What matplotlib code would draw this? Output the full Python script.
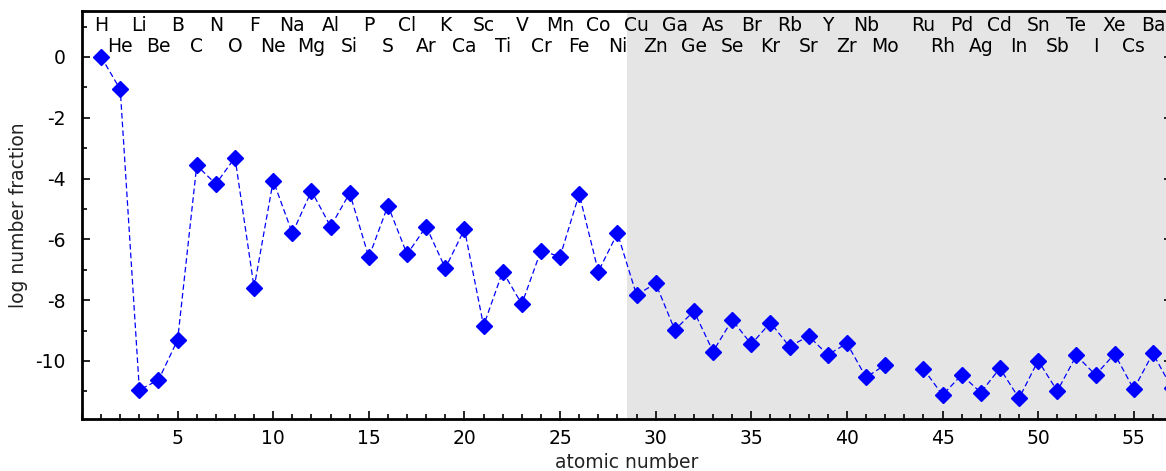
import numpy as np
import matplotlib
matplotlib.use("Agg")
import matplotlib.pyplot as plt
from matplotlib.ticker import MultipleLocator

plt.rcParams["font.family"] = ["DejaVu Sans"]
plt.rcParams["axes.unicode_minus"] = False

# atomic number, element symbol, log number fraction (Tc missing)
atomic_number = list(range(1, 58))
symbols = [
    "H", "He", "Li", "Be", "B", "C", "N", "O", "F", "Ne",
    "Na", "Mg", "Al", "Si", "P", "S", "Cl", "Ar", "K", "Ca",
    "Sc", "Ti", "V", "Cr", "Mn", "Fe", "Co", "Ni", "Cu", "Zn",
    "Ga", "Ge", "As", "Se", "Br", "Kr", "Rb", "Sr", "Y", "Zr",
    "Nb", "Mo", "Tc", "Ru", "Rh", "Pd", "Ag", "Cd", "In", "Sn",
    "Sb", "Te", "I", "Xe", "Cs", "Ba", "La",
]
log_fraction = [
    0.00, -1.07, -10.95, -10.63, -9.31, -3.57, -4.18, -3.31, -7.59, -4.07,
    -5.80, -4.41, -5.58, -4.48, -6.59, -4.89, -6.49, -5.58, -6.95, -5.67,
    -8.84, -7.06, -8.13, -6.37, -6.57, -4.51, -7.06, -5.80, -7.83, -7.45,
    -8.98, -8.36, -9.69, -8.65, -9.45, -8.74, -9.53, -9.18, -9.80, -9.42,
    -10.54, -10.13, np.nan, -10.26, -11.12, -10.46, -11.04, -10.24, -11.23, -9.99,
    -10.99, -9.82, -10.46, -9.77, -10.93, -9.75, -10.90,
]

X_MAX = 57
SHADE_START = 28.5
FS = 13.5

fig = plt.figure(figsize=(11.66, 4.71), dpi=100)
ax = fig.add_axes([82 / 1166, 52 / 471, 1090 / 1166, 408 / 471])

ax.axvspan(SHADE_START, X_MAX, color="#e5e5e5", zorder=0, lw=0)

ax.plot(atomic_number, log_fraction, color="#0000ff", lw=0.9,
        ls=(0, (4.5, 2.5)), zorder=2)
ax.plot(atomic_number, log_fraction, ls="none", marker="D", ms=8,
        color="#0000ff", mec="#0000ff", zorder=3, clip_on=False)

# element labels along the top, alternating rows
present = [(z, s) for z, s, v in zip(atomic_number, symbols, log_fraction)
           if not np.isnan(v) and z < X_MAX]
for i, (z, s) in enumerate(present):
    y = 0.853 if i % 2 == 0 else 0.164
    ax.text(z, y, s, ha="center", va="baseline", fontsize=FS, color="black")

ax.set_xlim(0, X_MAX)
ax.set_ylim(-11.91, 1.51)
ax.xaxis.set_major_locator(MultipleLocator(5))
ax.xaxis.set_minor_locator(MultipleLocator(1))
ax.yaxis.set_major_locator(MultipleLocator(2))
ax.yaxis.set_minor_locator(MultipleLocator(1))
ax.set_xticks([5, 10, 15, 20, 25, 30, 35, 40, 45, 50, 55])

ax.tick_params(which="both", direction="in", top=False, right=True,
               width=1.2, labelsize=FS)
ax.tick_params(which="major", length=6)
ax.tick_params(which="minor", length=3.5)
ax.tick_params(axis="y", pad=12)
ax.tick_params(axis="x", pad=7)

for sp in ax.spines.values():
    sp.set_linewidth(2)
    sp.set_zorder(5)

ax.set_xlabel("atomic number", fontsize=FS, color="#222222", labelpad=4)
ax.set_ylabel("log number fraction", fontsize=FS, color="#222222", labelpad=5)

fig.savefig("out.png", dpi=100)
